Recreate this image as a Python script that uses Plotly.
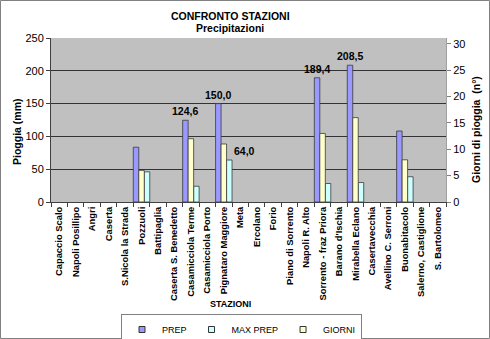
import plotly.graph_objects as go

# Stations (category axis)
stations = [
    "Capaccio Scalo", "Napoli Posillipo", "Angri", "Caserta", "S.Nicola la Strada",
    "Pozzuoli", "Battipaglia", "Caserta S. Benedetto", "Casamicciola Terme",
    "Casamicciola Porto", "Pignataro Maggiore", "Meta", "Ercolano", "Forio",
    "Piano di Sorrento", "Napoli R. Alto", "Sorrento - fraz Priora", "Barano d'Ischia",
    "Mirabella Eclano", "Casertavecchia", "Avellino C. Serroni", "Buonabitacolo",
    "Salerno, Castiglione", "S. Bartolomeo",
]

# Total rainfall (mm), left axis
prep = [None, None, None, None, None, 83.5, None, None, 124.6, None, 150.0, None,
        None, None, None, None, 189.4, None, 208.5, None, None, 108.2, None, None]
# Maximum daily rainfall (mm), left axis
max_prep = [None, None, None, None, None, 46.0, None, None, 24.0, None, 64.0, None,
            None, None, None, None, 28.2, None, 29.7, None, None, 38.5, None, None]
# Rainy days (count), right axis
giorni = [None, None, None, None, None, 6, None, None, 12, None, 11, None,
          None, None, None, None, 13, None, 16, None, None, 8, None, None]

# Data labels: (station, series)
labels = [
    ("Casamicciola Terme", "PREP"),
    ("Pignataro Maggiore", "PREP"),
    ("Pignataro Maggiore", "MAX PREP"),
    ("Sorrento - fraz Priora", "PREP"),
    ("Mirabella Eclano", "PREP"),
]

FONT = "Arial, Liberation Sans, sans-serif"
W, H = 490, 339
L, R, T, B = 51, 44, 38, 137
PW, PH = W - L - R, H - T - B

def px_x(x):
    return (x - L) / PW

def px_y(y):
    return (H - B - y) / PH

bar_w = 1 / 3
line = dict(color="#3a3a3a", width=0.8)
colors = {"PREP": "#9999FF", "MAX PREP": "#CCFFFF", "GIORNI": "#FFFFCC"}

fig = go.Figure()
fig.add_trace(go.Bar(name="PREP", x=stations, y=prep, width=bar_w, offset=-0.5,
                     marker=dict(color=colors["PREP"], line=line), yaxis="y",
                     showlegend=False))
fig.add_trace(go.Bar(name="MAX PREP", x=stations, y=max_prep, width=bar_w,
                     offset=-0.5 + 2 * bar_w,
                     marker=dict(color=colors["MAX PREP"], line=line), yaxis="y",
                     showlegend=False))
fig.add_trace(go.Bar(name="GIORNI", x=stations, y=giorni, width=bar_w, offset=-0.5 + bar_w,
                     marker=dict(color=colors["GIORNI"], line=line), yaxis="y2",
                     showlegend=False))

# Legend keys: small squares
for name in ["PREP", "MAX PREP", "GIORNI"]:
    fig.add_trace(go.Scatter(name=name, x=[None], y=[None], mode="markers",
                             marker=dict(symbol="square", size=6, color=colors[name],
                                         line=dict(color="#333", width=1)),
                             showlegend=True))

series = {"PREP": (prep, -0.5 + bar_w / 2, 0), "MAX PREP": (max_prep, -0.5 + 2.5 * bar_w, 15)}
annotations = []
for st, key in labels:
    vals, off, shift = series[key]
    i = stations.index(st)
    v = vals[i]
    annotations.append(dict(
        x=i + off, y=v, xref="x", yref="y", text=f"{v:.1f}".replace(".", ","),
        showarrow=False, xanchor="center", yanchor="bottom", yshift=1, xshift=shift,
        font=dict(family=FONT, size=10.5, color="#000", weight="bold"),
    ))

def text_at(x, y, text, size, angle=0):
    return dict(x=px_x(x), y=px_y(y), xref="paper", yref="paper", text=text,
                xanchor="center", yanchor="middle", textangle=angle, showarrow=False,
                font=dict(family=FONT, size=size, color="#000", weight="bold"))

annotations += [
    text_at(230, 16, "CONFRONTO STAZIONI", 10.5),
    text_at(230, 28, "Precipitazioni", 10.5),
    text_at(230, 304, "STAZIONI", 9),
    text_at(17, 132, "Pioggia (mm)", 10.5, -90),
    text_at(476, 130, "Giorni di pioggia  (n°)", 10.5, -90),
]

fig.update_layout(
    width=W, height=H,
    margin=dict(l=L, r=R, t=T, b=B, pad=0, autoexpand=False),
    paper_bgcolor="white", plot_bgcolor="#C0C0C0",
    barmode="overlay",
    showlegend=True,
    legend=dict(orientation="h", xref="container", yref="container",
                x=121 / W, y=1 - 314 / H, xanchor="left", yanchor="top",
                bordercolor="#808080", borderwidth=1, bgcolor="white",
                font=dict(family=FONT, size=9, color="#000"),
                itemwidth=30, traceorder="normal"),
    xaxis=dict(type="category", tickson="boundaries", ticks="outside", ticklen=4,
               tickcolor="#404040", showline=True, linecolor="#404040", linewidth=1,
               tickangle=-90, showgrid=False, automargin=False,
               tickfont=dict(family=FONT, size=9.4, color="#000", weight="bold"),
               range=[-0.5, len(stations) - 0.5]),
    yaxis=dict(range=[0, 250], dtick=50, showgrid=True, gridcolor="#333333", gridwidth=1,
               ticks="outside", ticklen=4, tickcolor="#404040", showline=True,
               linecolor="#404040", zeroline=False, automargin=False,
               tickfont=dict(family=FONT, size=11, color="#000")),
    yaxis2=dict(range=[0, 31.1], dtick=5, overlaying="y", side="right", showgrid=False,
                ticks="outside", ticklen=4, tickcolor="#808080", showline=True,
                linecolor="#A0A0A0", zeroline=False, automargin=False,
                tickfont=dict(family=FONT, size=11, color="#000")),
    annotations=annotations,
    shapes=[dict(type="rect", xref="paper", yref="paper",
                 x0=px_x(0.5), x1=px_x(489.5), y0=px_y(338.5), y1=px_y(0.5),
                 line=dict(color="#808080", width=1), layer="below")],
)

fig.write_html("out.html")
